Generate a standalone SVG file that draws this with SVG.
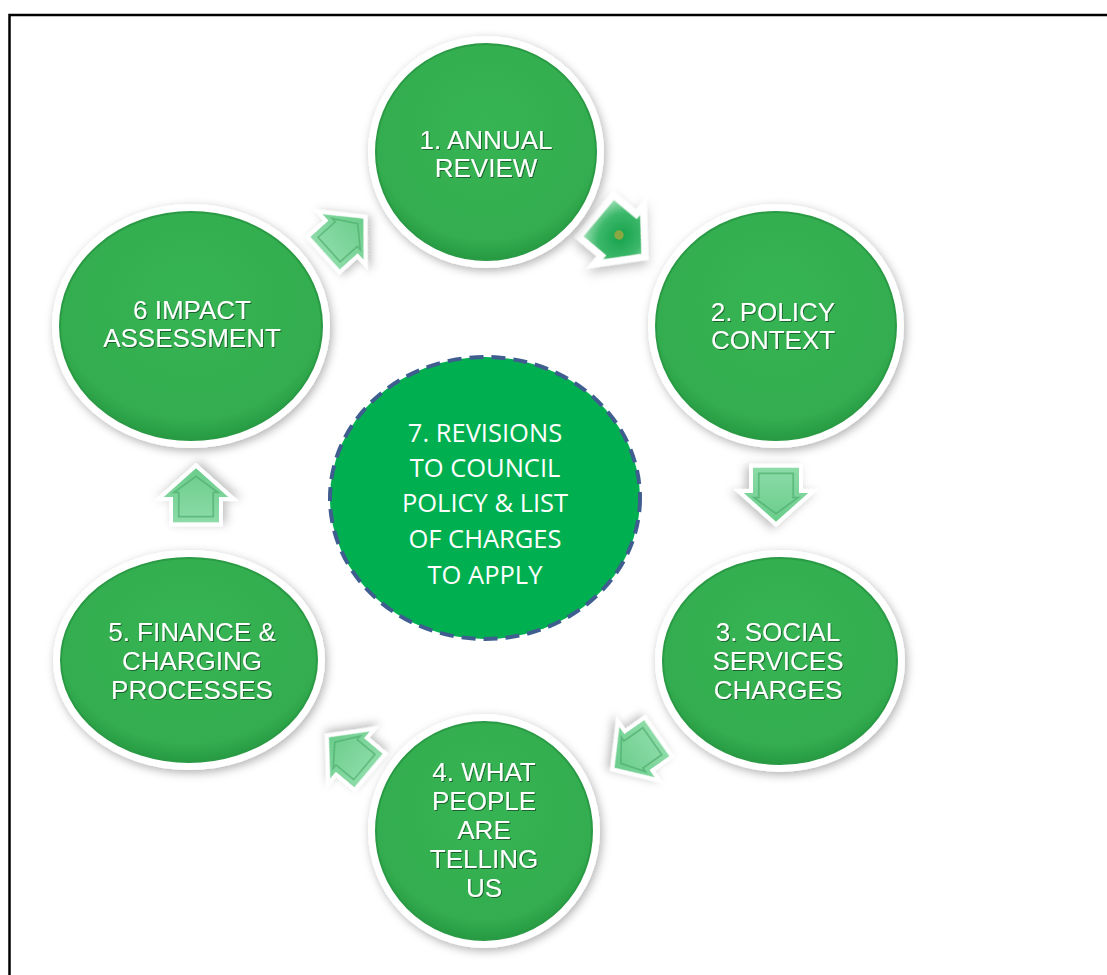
<svg xmlns="http://www.w3.org/2000/svg" width="1107" height="975" viewBox="0 0 1107 975">
<defs>
<style>
.ring{fill:#ffffff;filter:url(#sh);}
.disc{fill:url(#gg);stroke:#2a9a45;stroke-width:2;}
.lbl{font-family:"Liberation Sans",Arial,sans-serif;font-size:26px;fill:#ffffff;text-anchor:middle;filter:url(#tsh);}
.clbl{font-family:"Open Sans","Liberation Sans",sans-serif;font-size:25.5px;fill:#ffffff;text-anchor:middle;}
.arw{fill:url(#ag);stroke:#ffffff;stroke-width:7;stroke-linejoin:miter;paint-order:stroke;filter:url(#ash);}
.bev{fill:none;stroke:#4fae6c;stroke-width:1.5;opacity:0.7;}
</style>
<radialGradient id="gg" cx="50%" cy="40%" r="60%">
<stop offset="0" stop-color="#36b453"/>
<stop offset="0.85" stop-color="#33ad4f"/>
<stop offset="1" stop-color="#279a42"/>
</radialGradient>
<linearGradient id="ag" x1="0" y1="0" x2="1" y2="0">
<stop offset="0" stop-color="#8cdba8"/>
<stop offset="1" stop-color="#6acd8b"/>
</linearGradient>
<radialGradient id="ag2" cx="50%" cy="50%" r="60%">
<stop offset="0" stop-color="#16a24c"/>
<stop offset="0.55" stop-color="#3cb86a"/>
<stop offset="1" stop-color="#b4e9c5"/>
</radialGradient>
<filter id="sh" x="-20%" y="-20%" width="140%" height="140%">
<feDropShadow dx="2" dy="3" stdDeviation="5" flood-color="#000" flood-opacity="0.3"/>
</filter>
<filter id="ash" x="-40%" y="-40%" width="180%" height="180%">
<feDropShadow dx="2" dy="3" stdDeviation="4" flood-color="#000" flood-opacity="0.25"/>
</filter>
<filter id="tsh" x="-10%" y="-10%" width="120%" height="130%">
<feDropShadow dx="1" dy="1" stdDeviation="0.6" flood-color="#000" flood-opacity="0.45"/>
</filter>
<path id="arr" d="M-22,-20 L0,-20 L0,-28 L25,0 L0,28 L0,20 L-22,20 Z"/>
</defs>
<rect width="1107" height="975" fill="#ffffff"/>
<rect x="9.5" y="15" width="1110" height="980" fill="none" stroke="#000" stroke-width="2.5"/>

<g id="connectors">
<g transform="translate(343,237) rotate(-42) scale(1.1)"><use href="#arr" class="arw"/><path class="bev" d="M-17,-15 L4,-15 L4,-19 L18,0 L4,19 L4,15 L-17,15 Z"/></g>
<g transform="translate(619,235) rotate(40) scale(1.35)"><use href="#arr" style="fill:url(#ag2);stroke:#ffffff;stroke-width:5;filter:url(#ash)"/><circle r="3.5" fill="#8aa842"/></g>
<g transform="translate(776,493) rotate(90) scale(1.15)"><use href="#arr" class="arw"/><path class="bev" d="M-17,-15 L4,-15 L4,-19 L18,0 L4,19 L4,15 L-17,15 Z"/></g>
<g transform="translate(637,752) rotate(145) scale(1.1)"><use href="#arr" class="arw"/><path class="bev" d="M-17,-15 L4,-15 L4,-19 L18,0 L4,19 L4,15 L-17,15 Z"/></g>
<g transform="translate(350,755) rotate(-140) scale(1.1)"><use href="#arr" class="arw"/><path class="bev" d="M-17,-15 L4,-15 L4,-19 L18,0 L4,19 L4,15 L-17,15 Z"/></g>
<g transform="translate(196,497) rotate(-90) scale(1.15)"><use href="#arr" class="arw"/><path class="bev" d="M-17,-15 L4,-15 L4,-19 L18,0 L4,19 L4,15 L-17,15 Z"/></g>
</g>

<g id="node1">
<ellipse class="ring" cx="486" cy="152" rx="118" ry="116"/>
<ellipse class="disc" cx="486" cy="152" rx="110" ry="108"/>
<text class="lbl" x="486" y="149">1. ANNUAL</text>
<text class="lbl" x="486" y="177">REVIEW</text>
</g>
<g id="node2">
<ellipse class="ring" cx="776" cy="326" rx="128" ry="122"/>
<ellipse class="disc" cx="776" cy="326" rx="120" ry="114"/>
<text class="lbl" x="773" y="321">2. POLICY</text>
<text class="lbl" x="773" y="349">CONTEXT</text>
</g>
<g id="node3">
<ellipse class="ring" cx="780" cy="661" rx="125" ry="111"/>
<ellipse class="disc" cx="780" cy="661" rx="117" ry="103"/>
<text class="lbl" x="778" y="641">3. SOCIAL</text>
<text class="lbl" x="778" y="670">SERVICES</text>
<text class="lbl" x="778" y="699">CHARGES</text>
</g>
<g id="node4">
<ellipse class="ring" cx="484" cy="831" rx="116" ry="117"/>
<ellipse class="disc" cx="484" cy="831" rx="108" ry="109"/>
<text class="lbl" x="484" y="781">4. WHAT</text>
<text class="lbl" x="484" y="810">PEOPLE</text>
<text class="lbl" x="484" y="839">ARE</text>
<text class="lbl" x="484" y="868">TELLING</text>
<text class="lbl" x="484" y="897">US</text>
</g>
<g id="node5">
<ellipse class="ring" cx="189" cy="660" rx="136" ry="110"/>
<ellipse class="disc" cx="189" cy="660" rx="128" ry="102"/>
<text class="lbl" x="192" y="641">5. FINANCE &amp;</text>
<text class="lbl" x="192" y="670">CHARGING</text>
<text class="lbl" x="192" y="699">PROCESSES</text>
</g>
<g id="node6">
<ellipse class="ring" cx="191" cy="326" rx="139" ry="122"/>
<ellipse class="disc" cx="191" cy="326" rx="131" ry="114"/>
<text class="lbl" x="192" y="319">6 IMPACT</text>
<text class="lbl" x="192" y="347">ASSESSMENT</text>
</g>
<g id="node7">
<ellipse cx="485" cy="498" rx="155" ry="141" fill="#00b050" stroke="#3f5e8f" stroke-width="4" stroke-dasharray="14 8"/>
<text class="clbl" x="485" y="442">7. REVISIONS</text>
<text class="clbl" x="485" y="477">TO COUNCIL</text>
<text class="clbl" x="485" y="512">POLICY &amp; LIST</text>
<text class="clbl" x="485" y="548">OF CHARGES</text>
<text class="clbl" x="485" y="584">TO APPLY</text>
</g>
</svg>
